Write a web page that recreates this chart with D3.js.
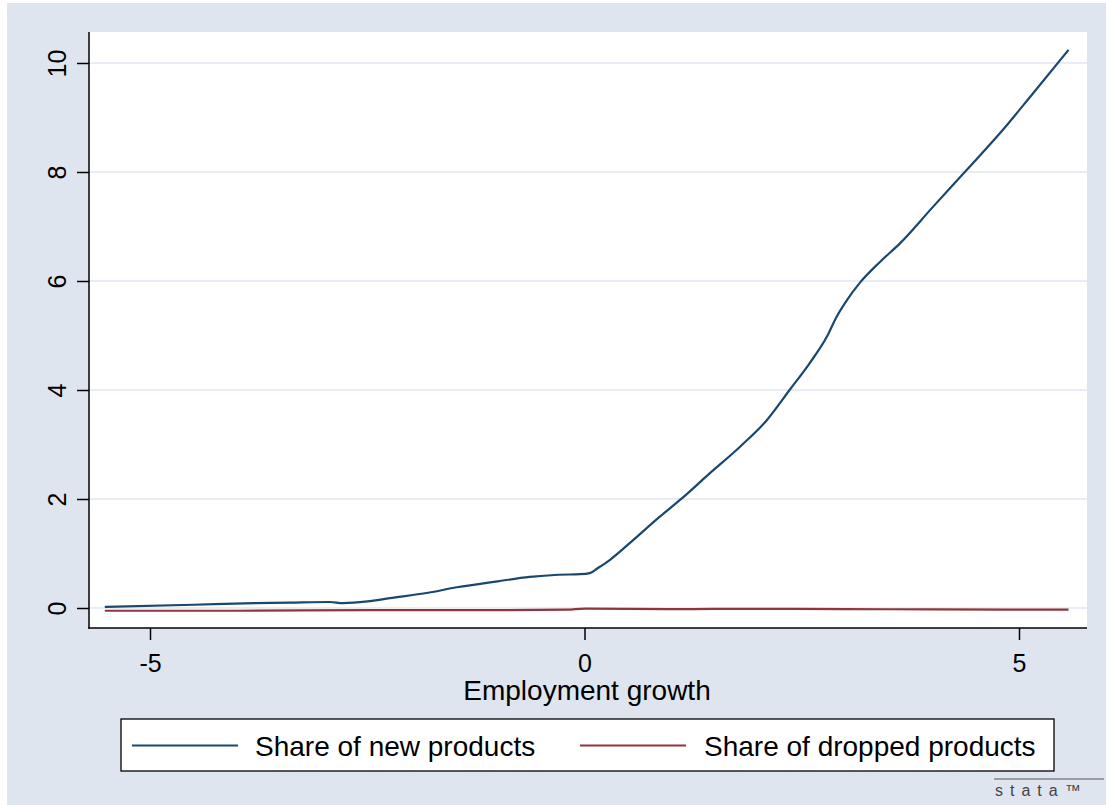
<!DOCTYPE html>
<html>
<head>
<meta charset="utf-8">
<script src="https://cdn.jsdelivr.net/npm/d3@7"></script>
<style>
  html, body { margin: 0; padding: 0; background: #ffffff; }
  svg { display: block; }
  text { font-family: "Liberation Sans", Arial, sans-serif; fill: #000; }
</style>
</head>
<body>
<svg id="chart" width="1106" height="805"></svg>
<script>
// ---- Data ----
const newX = [-5.52, -4.5, -3.8, -3.39, -2.93, -2.78, -2.5, -2.24, -1.8, -1.47, -1.0, -0.63, -0.3, -0.05, 0.06, 0.15, 0.29, 0.52, 0.87, 1.12, 1.44, 1.79, 2.10, 2.36, 2.59, 2.79, 2.90, 3.02, 3.17, 3.40, 3.63, 4.01, 4.40, 4.78, 5.16, 5.57];
const newY = [0.02, 0.06, 0.09, 0.10, 0.11, 0.09, 0.12, 0.18, 0.28, 0.38, 0.49, 0.57, 0.61, 0.62, 0.64, 0.73, 0.88, 1.19, 1.68, 2.01, 2.47, 2.96, 3.45, 4.00, 4.49, 4.98, 5.34, 5.65, 5.97, 6.35, 6.69, 7.36, 8.04, 8.71, 9.44, 10.24];
const dropX = [-5.52, -4.0, -2.5, -1.0, -0.2, 0.0, 1.0, 2.0, 3.0, 4.0, 5.57];
const dropY = [-0.05, -0.05, -0.04, -0.04, -0.03, -0.01, -0.02, -0.015, -0.02, -0.025, -0.03];
const xTicks = [-5, 0, 5];
const yTicks = [0, 2, 4, 6, 8, 10];
const xTitle = "Employment growth";
const seriesNames = ["Share of new products", "Share of dropped products"];
const seriesColors = ["#1a476f", "#90353b"];

// ---- Layout ----
const svg = d3.select("#chart");
const bg = "#dfe5ef";
const plot = { left: 89, right: 1087, top: 32, bottom: 628 };

svg.append("rect").attr("x", 7).attr("y", 3).attr("width", 1106 - 7).attr("height", 805 - 3).attr("fill", bg);
svg.append("rect").attr("x", plot.left).attr("y", plot.top)
  .attr("width", plot.right - plot.left).attr("height", plot.bottom - plot.top).attr("fill", "#ffffff");

const x = d3.scaleLinear().domain([-5, 5]).range([150, 1019]);
const y = d3.scaleLinear().domain([0, 10]).range([608, 63]);

// gridlines
svg.append("g").selectAll("line").data(yTicks).join("line")
  .attr("x1", plot.left).attr("x2", plot.right)
  .attr("y1", d => y(d)).attr("y2", d => y(d))
  .attr("stroke", "#e1e6f0").attr("stroke-width", 1.6);

// series
const line = d3.line().x(d => x(d[0])).y(d => y(d[1])).curve(d3.curveMonotoneX);
svg.append("path").datum(dropX.map((v, i) => [v, dropY[i]]))
  .attr("d", line).attr("fill", "none").attr("stroke", seriesColors[1]).attr("stroke-width", 2.2);
svg.append("path").datum(newX.map((v, i) => [v, newY[i]]))
  .attr("d", line).attr("fill", "none").attr("stroke", seriesColors[0]).attr("stroke-width", 2.2);

// y axis
const yAxis = d3.axisLeft(y).tickValues(yTicks).tickSize(12).tickFormat(d3.format("d"));
const gy = svg.append("g").attr("transform", `translate(${plot.left},0)`).call(yAxis);
gy.select(".domain").remove();
gy.selectAll(".tick line").attr("stroke", "#000").attr("stroke-width", 1.5);
gy.selectAll(".tick text").remove();
gy.selectAll(".tick").append("text")
  .attr("transform", "translate(-23,0) rotate(-90)")
  .attr("text-anchor", "middle")
  .attr("font-size", 25)
  .text(d => d);
svg.append("line").attr("x1", plot.left).attr("x2", plot.left)
  .attr("y1", plot.top).attr("y2", plot.bottom + 0.75).attr("stroke", "#000").attr("stroke-width", 1.5);

// x axis
const xAxis = d3.axisBottom(x).tickValues(xTicks).tickSize(12).tickFormat(d3.format("d"));
const gx = svg.append("g").attr("transform", `translate(0,${plot.bottom})`).call(xAxis);
gx.select(".domain").remove();
gx.selectAll(".tick line").attr("stroke", "#000").attr("stroke-width", 1.5);
gx.selectAll(".tick text").attr("font-size", 25).attr("dy", null).attr("y", 44)
  .attr("font-family", "Liberation Sans, Arial, sans-serif").attr("fill", "#000")
  .text(d => d < 0 ? "-" + Math.abs(d) : d);
svg.append("line").attr("x1", plot.left - 0.75).attr("x2", plot.right)
  .attr("y1", plot.bottom).attr("y2", plot.bottom).attr("stroke", "#000").attr("stroke-width", 1.5);

// x title
svg.append("text").attr("x", 587).attr("y", 700)
  .attr("text-anchor", "middle").attr("font-size", 28).text(xTitle);

// legend
svg.append("rect").attr("x", 121).attr("y", 719).attr("width", 933).attr("height", 52)
  .attr("fill", "#fff").attr("stroke", "#000").attr("stroke-width", 1.3);
const legItems = [
  { lx: 132, tx: 255 },
  { lx: 580, tx: 704 }
];
legItems.forEach((it, i) => {
  svg.append("line").attr("x1", it.lx).attr("x2", it.lx + 106).attr("y1", 745.5).attr("y2", 745.5)
    .attr("stroke", seriesColors[i]).attr("stroke-width", 2);
  svg.append("text").attr("x", it.tx).attr("y", 755.5).attr("font-size", 28).text(seriesNames[i]);
});

// stata logo
svg.append("line").attr("x1", 994).attr("x2", 1104).attr("y1", 779).attr("y2", 779)
  .attr("stroke", "#555").attr("stroke-width", 1.2);
svg.append("text").attr("x", 995).attr("y", 796).attr("font-size", 16)
  .attr("font-family", "DejaVu Sans Mono, monospace").attr("letter-spacing", 7)
  .attr("font-weight", 300)
  .style("fill", "#444").text("stata™");
</script>
</body>
</html>
